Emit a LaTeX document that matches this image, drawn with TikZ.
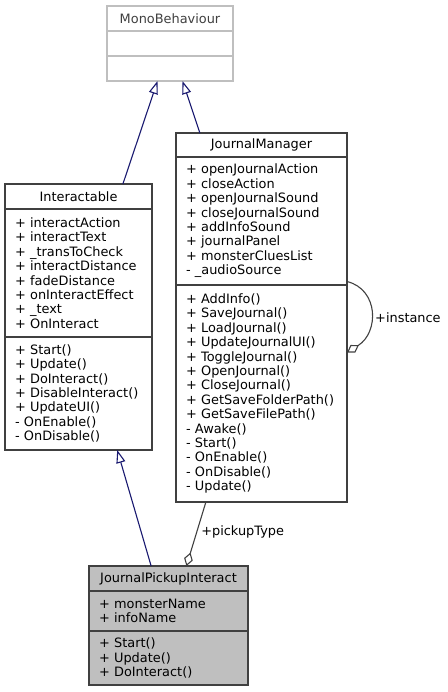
\documentclass[tikz,border=0pt]{standalone}
\usepackage{fontspec}
\setmainfont{DejaVu Sans}
\usetikzlibrary{arrows.meta,positioning,fit,calc}
\definecolor{boxline}{HTML}{404040}
\definecolor{extgray}{HTML}{BFBFBF}
\definecolor{inhblue}{HTML}{191970}
\begin{document}
\begin{tikzpicture}[x=1pt,y=-1pt,
    uml/.style={draw=boxline,line width=1.2pt,outer sep=0pt,fill=white,
      font=\fontsize{12.9}{14.4}\selectfont},
    hdr/.style={uml,minimum width=#1,minimum height=25pt,inner sep=0pt},
    body/.style={uml,text width=#1,align=left,inner xsep=10pt,inner ysep=1pt},
    extcls/.style={draw=extgray,text=black!75},
    focus/.style={fill=extgray},
    grp/.style={inner sep=0pt,outer sep=0pt},
    inherit/.style={draw=inhblue,line width=1.1pt,-{Triangle[open,length=13pt,width=9pt]}},
    usage/.style={draw=boxline,line width=1.1pt,-{Diamond[open,length=14pt,width=9pt]}},
    lbl/.style={font=\fontsize{12.9}{14.4}\selectfont,inner sep=0pt}
  ]
  \useasboundingbox (0,0) rectangle (447,692);

  \node[hdr=126pt,extcls,anchor=north west] (mbName) at (107,6) {MonoBehaviour};
  \node[hdr=126pt,extcls,below=0pt of mbName] (mbAttr) {};
  \node[hdr=126pt,extcls,below=0pt of mbAttr] (mbMeth) {};
  \node[grp,fit=(mbName)(mbMeth)] (mb) {};

  \node[hdr=147pt,anchor=north west] (intName) at (5,184) {Interactable};
  \node[body=127pt,minimum height=128pt,below=0pt of intName] (intAttr)
    {+ interactAction\\+ interactText\\+ \_transToCheck\\+ interactDistance\\
     + fadeDistance\\+ onInteractEffect\\+ \_text\\+ OnInteract};
  \node[body=127pt,minimum height=113pt,below=0pt of intAttr] (intMeth)
    {+ Start()\\+ Update()\\+ DoInteract()\\+ DisableInteract()\\+ UpdateUI()\\
     - OnEnable()\\- OnDisable()};
  \node[grp,fit=(intName)(intMeth)] (intr) {};

  \node[hdr=171pt,minimum height=24pt,anchor=north west] (jmName) at (176,133) {JournalManager};
  \node[body=151pt,minimum height=128pt,below=0pt of jmName] (jmAttr)
    {+ openJournalAction\\+ closeAction\\+ openJournalSound\\+ closeJournalSound\\
     + addInfoSound\\+ journalPanel\\+ monsterCluesList\\- \_audioSource};
  \node[body=151pt,minimum height=217pt,below=0pt of jmAttr] (jmMeth)
    {+ AddInfo()\\+ SaveJournal()\\+ LoadJournal()\\+ UpdateJournalUI()\\
     + ToggleJournal()\\+ OpenJournal()\\+ CloseJournal()\\+ GetSaveFolderPath()\\
     + GetSaveFilePath()\\- Awake()\\- Start()\\- OnEnable()\\- OnDisable()\\- Update()};
  \node[grp,fit=(jmName)(jmMeth)] (jm) {};

  \node[hdr=159pt,focus,anchor=north west] (jpiName) at (89,566) {JournalPickupInteract};
  \node[body=139pt,focus,minimum height=40pt,below=0pt of jpiName] (jpiAttr)
    {+ monsterName\\+ infoName};
  \node[body=139pt,focus,minimum height=54pt,below=0pt of jpiAttr] (jpiMeth)
    {+ Start()\\+ Update()\\+ DoInteract()};
  \node[grp,fit=(jpiName)(jpiMeth)] (jpi) {};

  \draw[inherit] (intr) -- (mb);
  \draw[inherit] (jm) -- (mb);
  \draw[inherit] (jpi) -- (intr);
  \draw[usage] (jm) -- (jpi) node[lbl,pos=0.47,anchor=west,xshift=4pt] (lblPickup) {+pickupType};
  \draw[usage] ($(jm.east)+(0,-36)$) .. controls +(32,8) and +(32,-20) .. ($(jm.east)+(0,35)$);
  \node[lbl,anchor=west] (lblInst) at ($(jm.east)+(28,0)$) {+instance};
\end{tikzpicture}
\end{document}
